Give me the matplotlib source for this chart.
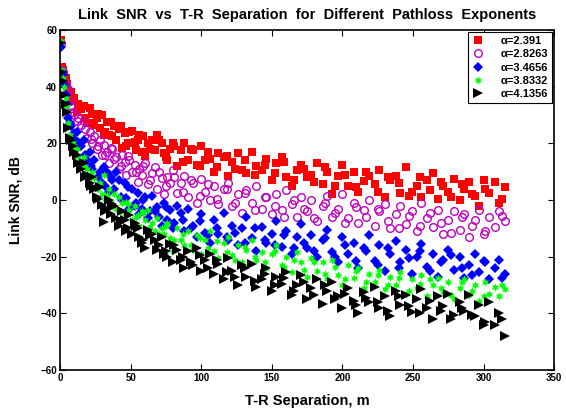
import matplotlib
matplotlib.use('Agg')
from matplotlib import pyplot as plt

plt.rcParams['font.family'] = ['Liberation Sans', 'DejaVu Sans']
plt.rcParams['font.weight'] = 'bold'

# T-R separation (m), shared by every exponent
dist = [0.5, 1.5, 3, 5, 6, 8, 10, 12, 15, 17,
        19, 21, 23, 24, 26, 28, 30, 31, 33, 35,
        36, 38, 40, 42, 44, 46, 47, 49, 51, 53,
        55, 56, 58, 60, 62, 65, 67, 69, 72, 74,
        76, 78, 80, 83, 86, 88, 91, 94, 97, 100,
        103, 106, 109, 112, 116, 119, 122, 126, 129, 132,
        136, 139, 143, 146, 150, 153, 157, 160, 164, 168,
        171, 175, 178, 182, 186, 189, 193, 197, 200, 204,
        208, 211, 215, 219, 223, 226, 230, 234, 238, 241,
        245, 249, 253, 256, 260, 264, 268, 271, 275, 279,
        283, 286, 290, 294, 297, 301, 304, 308, 311, 315,
        2, 4, 7, 9, 13, 18, 22, 27, 32, 37,
        43, 48, 54, 59, 64, 70, 75, 81, 87, 93,
        99, 105, 111, 118, 124, 131, 138, 145, 152, 159,
        166, 173, 180, 188, 195, 202, 210, 217, 225, 232,
        240, 247, 255, 262, 270, 277, 285, 292, 300, 313]

snr_a1 = [56.5, 47, 44, 41, 38, 38, 36, 31, 32, 33,
          27, 32.5, 30.5, 26.5, 29, 25.5, 30, 23, 27.5, 23,
          27.5, 26, 21, 25, 18.5, 23.7, 19, 24, 24.5, 20.5,
          21, 23, 17, 15.5, 20, 21, 17.5, 23, 20, 16.5,
          14, 18, 20, 12, 17.5, 20, 14, 17.5, 12.5, 19,
          14, 14.5, 10, 16.5, 15, 8.5, 13.5, 16.5, 10.5, 9.5,
          17, 12, 10.5, 14.5, 7, 13, 15, 8, 5, 10.5,
          12.5, 8, 9, 13, 5.5, 10, 2, 8.5, 12.5, 5,
          10, 3, 6.8, 8.5, 5.5, 10.5, 1, 7, 8.5, 2.5,
          11.5, 3, 5, 1, 7, 9.5, 0.5, 5, 3, 7.5,
          0, 4, 6.5, 1.5, -2, 4, 2.5, 6.5, -1, 4.5,
          46, 43, 36, 35, 34, 29, 27, 30.5, 24, 22.5,
          26, 20, 17.5, 22.5, 18, 21, 15, 19, 13.5, 18,
          12, 17, 11.5, 15.5, 11, 14, 9, 12.5, 9.5, 13.5,
          7, 11, 6.5, 11.5, 5, 9, 4.5, 10, 3, 8,
          6, 1.5, 8, 3.5, 6.5, 1, 5.5, 2, 7, 0.5]

snr_a2 = [55.5, 46, 42, 38, 39, 33, 30, 28, 26.5, 28,
          22, 24, 20, 22.5, 18, 21, 16, 19.5, 17, 13,
          18.5, 14.5, 15, 11, 16, 13.5, 9, 14, 10, 12.5,
          6.5, 11, 9, 13, 5.5, 9.5, 11.5, 4, 7.8, 2,
          8, 6, 10.5, 2.5, 6, 8.5, 1, 6, -1, 7.5,
          3, 0, 5, -1.5, 4, 6, -2, 2, -4.5, 3.5,
          -1, 5, -3, 1, -5, 2, -3.5, 3.5, -1.5, -6,
          1, -4, 0, -7.5, -2, 1.5, -6, -3, 2, -6.5,
          -1, -8, -3.5, 0, -9, -4, -1.5, -10, -5, -2,
          -8.5, -4, -11, -1, -6.5, -9.5, -3.5, -12, -7, -4,
          -10.5, -5, -13, -7, -3.5, -11, -6, -9.5, -4, -7.5,
          45, 41, 35, 31, 29, 25, 21.5, 19, 16, 18,
          12, 15.5, 10, 12, 7, 10, 5, 8, 3, 7,
          1.5, 5.5, 0.5, 4, -1, 2.5, -3.5, 1, -2, -6,
          0, -3, -6.5, -1, -4.5, -8, -2.5, -6, -3, -7.5,
          -10, -5.5, -9, -4.5, -8, -11.5, -6, -9, -12, -5.5]

snr_a3 = [54, 45, 40.5, 34, 29, 26, 23.5, 24, 19, 21,
          14, 17, 11, 14, 4.5, 10, 6, 11.5, 10, 3,
          8, 4, 10, 7, 0, 6, 0.7, -3, 4, -2,
          2.5, -5, -3, 1, -6.5, 1.5, -4, -2.5, -9, -1,
          -7, -3.5, -10, -2, -4.6, -11, -3, -9, -13, -5,
          -11.5, -15, -7, -12, -4.5, -14, -9, -16, -10, -6,
          -13.5, -18, -9.5, -15, -12, -7.5, -16.5, -11, -19, -13,
          -8.5, -17, -12.5, -20, -14, -10.5, -18.5, -22, -13, -19,
          -15, -24, -17, -12.5, -21.5, -16, -25, -19, -14.5, -22,
          -17.5, -26, -20, -15.5, -23.5, -19, -27, -21, -17.5, -24.5,
          -20, -27.5, -23, -19, -25.5, -22, -28, -24, -21, -26,
          44, 37, 27, 22, 20.5, 16, 12, 8, 5, 7,
          1, 4.5, -1, 0, -4, -6, -2.5, -8, -7, -10,
          -7.5, -12.5, -10, -13, -11.5, -15, -10, -14, -16, -12.5,
          -17, -15, -18, -13.5, -20, -16, -21.5, -18, -23, -17,
          -24, -20.5, -18, -25, -22, -19.5, -24, -26.5, -21.5, -27.5]

snr_a4 = [56, 46, 40, 33, 27, 21, 19, 18, 13.5, 15,
          11, 9, 10, 7.8, 5, 6, 2, 8.8, 1.7, 4,
          -0.7, 2, -3, 1, -1, -5, -0.7, -3.5, -7, -2,
          -5.3, -9, -4, -7, -3.5, -8, -11, -6.5, -10, -12,
          -8, -13.5, -18, -10, -14, -16, -11, -17.5, -12.5, -19,
          -14, -11, -18, -20.5, -15, -13, -19.5, -16, -22, -17.5,
          -14, -21, -18.5, -24, -19, -16, -23, -20, -25.5, -18.5,
          -22, -27, -20.5, -25, -22, -28, -21, -26.5, -30, -23,
          -27.5, -24, -31, -26, -29, -24.5, -31.5, -27, -30, -25.5,
          -33, -28, -31, -26.5, -34, -30, -27.5, -32.5, -29, -35,
          -31, -28, -33.5, -30, -35.5, -29, -33, -30.5, -34, -31.5,
          43, 36, 23, 20, 15, 11.5, 8, 4, 0.5, -2,
          -4, -1.5, -6, -4.5, -9.5, -12, -9, -14, -12, -16,
          -13.5, -17, -14.5, -18.5, -21, -16.5, -20, -22, -18, -23.5,
          -21, -24.5, -22, -26, -23.5, -28, -25, -29, -26.5, -30,
          -27.5, -32, -29.5, -28, -31, -33.5, -29, -32, -34, -30]

snr_a5 = [55.5, 45, 37, 31, 25.5, 21, 17, 16, 11, 13,
          9, 6, 8, 4, 1, 4.5, -1.8, -7.8, -3, 0,
          -5, -2, -6.4, -9, -4, -7, -11, -5.3, -12, -8,
          -10, -13, -15, -17, -10.6, -12, -14, -17.7, -13, -19,
          -20, -15.5, -22, -17.7, -21, -24, -18, -23, -17, -25,
          -21, -19, -26, -22.5, -28, -20.5, -25, -30, -23, -27,
          -22.5, -30.5, -28, -24, -32, -27, -29.5, -25.5, -33.5, -30,
          -26.5, -35, -31, -28, -36.5, -32, -29, -34, -38, -31,
          -35.5, -40, -32.5, -36, -30.5, -38, -34, -41, -32, -37,
          -33.5, -39.5, -35, -31.5, -38, -42, -34, -37.5, -33, -40.5,
          -36, -39, -33.5, -41, -37, -43, -36, -44, -40, -48,
          42, 34, 22, 19, 13, 8, 5, 0.5, -4, -1.5,
          -7.5, -10, -9, -14, -12.5, -16, -18, -16, -20, -22,
          -19.5, -24, -21, -25.5, -27, -24, -28.5, -26, -30, -27.5,
          -32, -29, -33.5, -30, -35, -33, -37, -34.5, -36, -39,
          -34, -37.5, -40, -35.5, -39, -42, -38, -40.5, -44, -42]

labels = ['\u03b1=2.391', '\u03b1=2.8263', '\u03b1=3.4656', '\u03b1=3.8332', '\u03b1=4.1356']

fig = plt.figure(figsize=(5.66, 4.15), dpi=100)
ax = fig.add_axes([0.106, 0.108, 0.873, 0.820])

ax.plot(dist, snr_a1, 's', color='r', markersize=6, markeredgewidth=0, label=labels[0])
ax.plot(dist, snr_a2, 'o', color='m', markerfacecolor='none', markersize=5.5, markeredgewidth=1, label=labels[1])
ax.plot(dist, snr_a3, 'D', color='b', markersize=5, markeredgewidth=0, label=labels[2])
ax.plot(dist, snr_a4, marker=(6, 1, 0), linestyle='none', color='#00ff00', markersize=6, markeredgewidth=0, label=labels[3])
ax.plot(dist, snr_a5, '>', color='k', markersize=6.5, markeredgewidth=0, label=labels[4])

ax.set_xlim(0, 350)
ax.set_ylim(-60, 60)
ax.set_xticks(range(0, 351, 50))
ax.set_yticks(range(-60, 61, 20))
ax.tick_params(direction='in', top=True, right=True, labelsize=7, length=4, width=0.8, pad=2)
for s in ax.spines.values():
    s.set_linewidth(1.2)

ax.set_title('Link  SNR  vs  T-R  Separation  for  Different  Pathloss  Exponents',
             fontsize=10.5, fontweight='bold', pad=8)
ax.set_xlabel('T-R Separation, m', fontsize=10.5, fontweight='bold', labelpad=8)
ax.set_ylabel('Link SNR, dB', fontsize=10, fontweight='bold', labelpad=13)

leg = ax.legend(loc='upper right', fontsize=8, frameon=True, fancybox=False,
                edgecolor='k', framealpha=1, borderaxespad=0.2, handlelength=1.2,
                handletextpad=1.4, borderpad=0.35, labelspacing=0.3)
leg.get_frame().set_linewidth(0.8)
for t in leg.get_texts():
    t.set_fontweight('bold')

fig.savefig('out.png', dpi=100)
